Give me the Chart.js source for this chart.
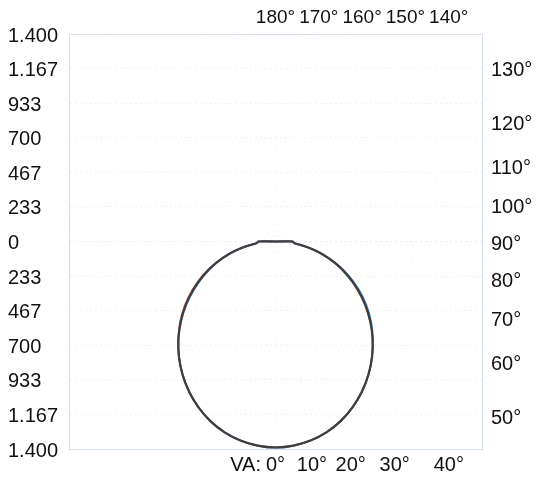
<!DOCTYPE html>
<html>
<head>
<meta charset="utf-8">
<script src="https://cdn.jsdelivr.net/npm/chart.js@4/dist/chart.umd.min.js"></script>
<style>
  html, body { margin: 0; padding: 0; background: #ffffff; }
  #wrap { width: 540px; height: 480px; }
</style>
</head>
<body>
<div id="wrap"><canvas id="lid" width="540" height="480"></canvas></div>
<script>
// Luminous intensity distribution (cd) by vertical angle gamma, 0° = nadir
const gammaAngles = [0, 5, 10, 15, 20, 25, 30, 35, 40, 45, 50, 55, 60, 65, 70, 75, 80, 85, 90,
                     95, 100, 105, 110, 115, 120, 125, 130, 135, 140, 145, 150, 155, 160, 165, 170, 175, 180];
const intensityC0   = [1390, 1383, 1364, 1333, 1290, 1235, 1171, 1098, 1018, 931, 839, 742, 641, 538, 433, 326, 217, 130, 115,
                       0, 0, 0, 0, 0, 0, 0, 0, 0, 0, 0, 0, 0, 0, 0, 0, 0, 0];
const intensityC180 = [1390, 1383, 1364, 1333, 1290, 1235, 1171, 1098, 1018, 931, 839, 742, 641, 538, 433, 326, 217, 130, 115,
                       0, 0, 0, 0, 0, 0, 0, 0, 0, 0, 0, 0, 0, 0, 0, 0, 0, 0];
const intensityC90  = [1390, 1383, 1364, 1333, 1290, 1235, 1171, 1098, 1018, 933, 846, 752, 652, 548, 439, 328, 217, 130, 115,
                       0, 0, 0, 0, 0, 0, 0, 0, 0, 0, 0, 0, 0, 0, 0, 0, 0, 0];
const intensityC270 = [1390, 1383, 1364, 1333, 1290, 1235, 1171, 1098, 1018, 931, 836, 737, 634, 532, 430, 325, 217, 130, 115,
                       0, 0, 0, 0, 0, 0, 0, 0, 0, 0, 0, 0, 0, 0, 0, 0, 0, 0];

// Radial scale (cd) shown on the left, above and below the luminaire
const radialTickValues = [-1400, -1166.7, -933.3, -700, -466.7, -233.3, 0, 233.3, 466.7, 700, 933.3, 1166.7, 1400];
const radialTickLabels = ['1.400', '1.167', '933', '700', '467', '233', '0', '233', '467', '700', '933', '1.167', '1.400'];

// Angle labels around the frame
const topAngles = [180, 170, 160, 150, 140];
const rightAngles = [130, 120, 110, 100, 90, 80, 70, 60, 50];
const bottomAngles = [0, 10, 20, 30, 40];

const RMAX = 1400;
const DEG = Math.PI / 180;
const FONT = { family: '"Liberation Sans", Arial, Helvetica, sans-serif', size: 20 };
const TOP_FONT_SIZE = 19;
const TEXT = '#111111';
const FRAME = '#d6e0ec';

// polar (gamma, I) -> cartesian, nadir pointing down; repeated origin points collapse to one
function curve(leftSide, rightSide) {
  const pts = [];
  const push = (x, y) => {
    const last = pts[pts.length - 1];
    if (last && Math.abs(last.x - x) < 1e-9 && Math.abs(last.y - y) < 1e-9) return;
    pts.push({ x, y });
  };
  for (let i = gammaAngles.length - 1; i > 0; i--) {
    const g = gammaAngles[i] * DEG;
    push(-leftSide[i] * Math.sin(g), -leftSide[i] * Math.cos(g));
  }
  for (let i = 0; i < gammaAngles.length; i++) {
    const g = gammaAngles[i] * DEG;
    push(rightSide[i] * Math.sin(g), -rightSide[i] * Math.cos(g));
  }
  return pts;
}

function angleTicks(list, toValue) {
  return list.map(a => ({ value: toValue(a), angle: a })).sort((p, q) => p.value - q.value);
}

// faint polar grid behind the curves
const polarGrid = {
  id: 'polarGrid',
  beforeDatasetsDraw(chart) {
    const { ctx, chartArea, scales } = chart;
    const xs = scales.x, ys = scales.y;
    const ox = xs.getPixelForValue(0), oy = ys.getPixelForValue(0);
    const unit = xs.getPixelForValue(RMAX) - ox;
    ctx.save();
    ctx.beginPath();
    ctx.rect(chartArea.left, chartArea.top, chartArea.right - chartArea.left, chartArea.bottom - chartArea.top);
    ctx.clip();
    ctx.strokeStyle = 'rgba(150,165,190,0.07)';
    ctx.lineWidth = 1;
    ctx.setLineDash([2, 3]);
    for (let k = 1; k <= 6; k++) {
      ctx.beginPath();
      ctx.arc(ox, oy, unit * k / 6, 0, Math.PI * 2);
      ctx.stroke();
    }
    for (let a = 0; a < 360; a += 10) {
      ctx.beginPath();
      ctx.moveTo(ox, oy);
      ctx.lineTo(ox + Math.sin(a * DEG) * unit * 1.5, oy + Math.cos(a * DEG) * unit * 1.5);
      ctx.stroke();
    }
    ctx.restore();
  }
};

// top angle labels, spread apart so neighbours never touch; "VA:" caption before 0°
const frameLabels = {
  id: 'frameLabels',
  afterDraw(chart) {
    const xs = chart.scales.x, xt = chart.scales.xTop;
    const ctx = chart.ctx;
    ctx.save();
    ctx.fillStyle = TEXT;
    ctx.textBaseline = 'middle';

    ctx.font = `${TOP_FONT_SIZE}px ${FONT.family}`;
    const gap = 4;
    let prevRight = -Infinity;
    const yTop = xt.bottom - 4 - FONT.size * 0.6;
    ctx.textAlign = 'left';
    topAngles.forEach(a => {
      const text = a + '°';
      const w = ctx.measureText(text).width;
      let left = xt.getPixelForValue(RMAX * Math.tan((180 - a) * DEG)) - w / 2;
      if (left < prevRight + gap) left = prevRight + gap;
      ctx.fillText(text, left, yTop);
      prevRight = left + w;
    });

    ctx.font = `${FONT.size}px ${FONT.family}`;
    const half = ctx.measureText('0°').width / 2;
    ctx.textAlign = 'right';
    ctx.fillText('VA:', xs.getPixelForValue(0) - half - 5, xs.top + 4 + FONT.size * 0.6);
    ctx.restore();
  }
};

const frameBorder = { display: true, color: FRAME, width: 1 };

new Chart(document.getElementById('lid'), {
  type: 'scatter',
  data: {
    datasets: [
      { label: 'C0-C180', data: curve(intensityC180, intensityC0), showLine: true, tension: 0.25,
        borderColor: '#3e3e3e', borderWidth: 2.2, pointRadius: 0, order: 0 },
      { label: 'C90-C270', data: curve(intensityC270, intensityC90), showLine: true, tension: 0.25,
        borderColor: '#2a78d2', borderWidth: 2, pointRadius: 0, order: 2 },
      { label: 'C270-C90', data: curve(intensityC90, intensityC270), showLine: true, tension: 0.25,
        borderColor: '#e2663c', borderWidth: 1.5, pointRadius: 0, order: 1 }
    ]
  },
  options: {
    responsive: false,
    animation: false,
    layout: { padding: { left: 8, right: 0, top: 0, bottom: 0 } },
    plugins: { legend: { display: false }, tooltip: { enabled: false } },
    scales: {
      x: {
        type: 'linear', position: 'bottom', min: -RMAX, max: RMAX,
        afterFit(s) { s.height = 31; },
        afterBuildTicks(s) { s.ticks = angleTicks(bottomAngles, a => RMAX * Math.tan(a * DEG)); },
        grid: { display: false, drawTicks: false },
        border: frameBorder,
        ticks: { autoSkip: false, maxRotation: 0, padding: 4, color: TEXT, font: FONT,
                 callback: (v, i, t) => t[i].angle + '°' }
      },
      xTop: {
        type: 'linear', position: 'top', min: -RMAX, max: RMAX,
        afterFit(s) { s.height = 34; },
        afterBuildTicks(s) { s.ticks = angleTicks(topAngles, a => RMAX * Math.tan((180 - a) * DEG)); },
        grid: { display: false, drawTicks: false },
        border: frameBorder,
        ticks: { display: false, autoSkip: false, maxRotation: 0 }
      },
      y: {
        type: 'linear', position: 'left', min: -RMAX, max: RMAX,
        afterFit(s) { s.width = 61; },
        afterBuildTicks(s) { s.ticks = radialTickValues.map((v, i) => ({ value: v, text: radialTickLabels[i] })); },
        grid: { display: true, drawTicks: false, color: 'rgba(160,175,195,0.16)' },
        border: { display: true, color: FRAME, width: 1, dash: [2, 3] },
        ticks: { autoSkip: false, padding: 0, crossAlign: 'far', labelOffset: 2, color: TEXT, font: FONT,
                 callback: (v, i, t) => t[i].text }
      },
      yRight: {
        type: 'linear', position: 'right', min: -RMAX, max: RMAX,
        afterFit(s) { s.width = 58; },
        afterBuildTicks(s) {
          s.ticks = angleTicks(rightAngles, a => -RMAX * Math.cos(a * DEG) / Math.sin(a * DEG));
        },
        grid: { display: false, drawTicks: false },
        border: frameBorder,
        ticks: { autoSkip: false, padding: 9, labelOffset: 3, color: TEXT, font: FONT,
                 callback: (v, i, t) => t[i].angle + '°' }
      }
    }
  },
  plugins: [polarGrid, frameLabels]
});
</script>
</body>
</html>
